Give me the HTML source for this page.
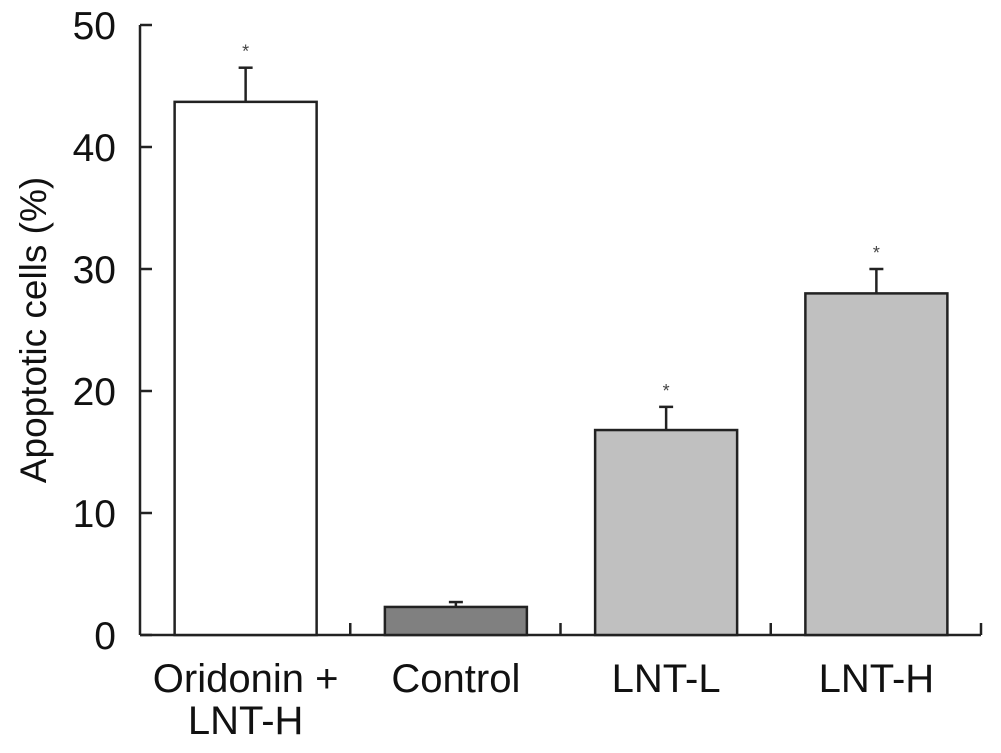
<!DOCTYPE html>
<html><head><meta charset="utf-8"><style>
html,body{margin:0;padding:0;background:#fff;}
svg{display:block;font-family:"Liberation Sans",Arial,sans-serif;}
</style></head><body>
<svg id="chart" width="1001" height="753" viewBox="0 0 1001 753"></svg>
<script>
const categories = ["Oridonin +|LNT-H", "Control", "LNT-L", "LNT-H"];
const values = [43.7, 2.3, 16.8, 28.0];
const errors = [2.8, 0.4, 1.9, 2.0];
const significant = [true, false, true, true];
const fills = ["#ffffff", "#808080", "#c0c0c0", "#c0c0c0"];
const yTicks = [0, 10, 20, 30, 40, 50];

const NS = "http://www.w3.org/2000/svg";
const svg = document.getElementById("chart");
const x0 = 140, x1 = 981, yBase = 635, yTop = 25, yMax = 50;
const band = (x1 - x0) / categories.length;
const barW = 142;
function y(v){ return yBase - (v / yMax) * (yBase - yTop); }
function xc(i){ return x0 + band * (i + 0.5) + 0.5; }
function mk(tag, attrs, parent){
  const e = document.createElementNS(NS, tag);
  for (const k in attrs) e.setAttribute(k, attrs[k]);
  (parent || svg).appendChild(e);
  return e;
}
const S = "#222";
let e = mk("line", {x1:x0, y1:y(0), x2:x0, y2:y(yMax), stroke:S, "stroke-width":2.5});


e = mk("line", {x1:x0, y1:yBase, x2:x1, y2:yBase, stroke:S, "stroke-width":2.5});


yTicks.forEach(t => {
  const tk = mk("line", {x1:x0, y1:y(t), x2:x0+12, y2:y(t), stroke:S, "stroke-width":2.5});
  
  
  const tx = mk("text", {x:116, y:y(t)+14, "text-anchor":"end", "font-size":39, fill:"#111"});
  tx.textContent = t;
  
  
});
for (let i = 1; i <= categories.length; i++) {
  const xx = x0 + band * i;
  const tk = mk("line", {x1:xx, y1:yBase, x2:xx, y2:yBase-12, stroke:S, "stroke-width":2.5});
  
  
}
const yt = mk("text", {x:0, y:0, transform:"translate(46,330) rotate(-90)", "text-anchor":"middle", "font-size":37, fill:"#111"});
yt.textContent = "Apoptotic cells (%)";



categories.forEach((c, i) => {
  const cx = xc(i);
  const top = y(values[i]);
  const et = y(values[i] + errors[i]);
  const w = mk("line", {x1:cx, y1:top, x2:cx, y2:et, stroke:S, "stroke-width":2.5});
  
  
  const cap = mk("line", {x1:cx-7, y1:et, x2:cx+7, y2:et, stroke:S, "stroke-width":2.5});
  
  
  const r = mk("rect", {x:cx-barW/2, y:top, width:barW, height:yBase-top, fill:fills[i], stroke:S, "stroke-width":2.5});
  
  
  if (significant[i]) {
    const s = mk("text", {x:cx, y:et-10, "text-anchor":"middle", "font-size":18, fill:"#444"});
    s.textContent = "*";
    
    
  }
  c.split("|").forEach((line, j) => {
    const t = mk("text", {x:cx, y:692 + j*42, "text-anchor":"middle", "font-size":40, fill:"#111"});
    t.textContent = line;
    
    
  });
});
</script>
</body></html>
